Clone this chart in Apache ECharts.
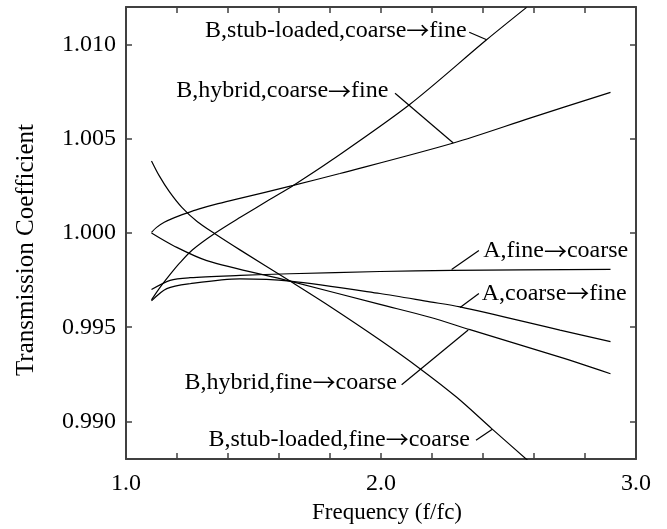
<!DOCTYPE html>
<html>
<head>
<meta charset="utf-8">
<script src="https://cdn.jsdelivr.net/npm/echarts@6/dist/echarts.min.js"></script>
<style>
  html, body { margin: 0; padding: 0; background: #ffffff; }
  #chart { width: 667px; height: 529px; }
</style>
</head>
<body>
<div id="chart"></div>
<script>
// Axis ticks and labels
const xLabelValues = [1.0, 2.0, 3.0];
const yTickValues = [0.990, 0.995, 1.000, 1.005, 1.010];

// Transmission coefficient versus normalised frequency f/fc
const stubCoarseToFine = [
  [1.100, 0.99645], [1.130, 0.99705], [1.170, 0.99775], [1.210, 0.99840],
  [1.260, 0.99910], [1.349, 0.99999], [1.450, 1.00085], [1.565, 1.00179],
  [1.656, 1.00253], [1.800, 1.00381], [2.110, 1.00680], [2.414, 1.01026],
  [2.571, 1.01198]
];
const hybridCoarseToFine = [
  [1.100, 1.00004], [1.120, 1.00030], [1.150, 1.00057], [1.190, 1.00082],
  [1.238, 1.00106], [1.284, 1.00127], [1.350, 1.00152], [1.434, 1.00180],
  [1.656, 1.00253], [1.839, 1.00316], [2.284, 1.00478], [2.584, 1.00610],
  [2.900, 1.00747]
];
const stubFineToCoarse = [
  [1.100, 1.00383], [1.130, 1.00305], [1.170, 1.00220], [1.220, 1.00135],
  [1.280, 1.00060], [1.350, 0.99995], [1.450, 0.99908], [1.643, 0.99745],
  [1.800, 0.99610], [1.996, 0.99432], [2.153, 0.99280], [2.297, 0.99128],
  [2.434, 0.98962], [2.578, 0.98790]
];
const hybridFineToCoarse = [
  [1.100, 1.00000], [1.186, 0.99933], [1.317, 0.99854], [1.643, 0.99745],
  [1.996, 0.99621], [2.192, 0.99553], [2.349, 0.99487], [2.702, 0.99341],
  [2.900, 0.99253]
];
const aCoarseToFine = [
  [1.100, 0.99640], [1.160, 0.99705], [1.251, 0.99731], [1.447, 0.99757],
  [1.643, 0.99745], [1.996, 0.99679], [2.192, 0.99635], [2.310, 0.99608],
  [2.702, 0.99485], [2.900, 0.99424]
];
const aFineToCoarse = [
  [1.100, 0.99700], [1.173, 0.99749], [1.251, 0.99763], [1.447, 0.99775],
  [1.643, 0.99784], [1.996, 0.99796], [2.277, 0.99802], [2.900, 0.99807]
];

// Curve labels: text, anchor point (data units), alignment, leader line ends
const curveLabels = [
  { text: 'B,stub-loaded,coarse\u2192fine', at: [2.336, 1.01074], align: 'right',
    leader: [[2.346, 1.01066], [2.4145, 1.01026]] },
  { text: 'B,hybrid,coarse\u2192fine', at: [2.029, 1.00754], align: 'right',
    leader: [[2.055, 1.00742], [2.2835, 1.00478]] },
  { text: 'A,fine\u2192coarse', at: [2.401, 0.99905], align: 'left',
    leader: [[2.384, 0.99907], [2.277, 0.99807]] },
  { text: 'A,coarse\u2192fine', at: [2.395, 0.99679], align: 'left',
    leader: [[2.384, 0.99679], [2.310, 0.99605]] },
  { text: 'B,hybrid,fine\u2192coarse', at: [2.062, 0.99206], align: 'right',
    leader: [[2.081, 0.99195], [2.342, 0.99485]] },
  { text: 'B,stub-loaded,fine\u2192coarse', at: [2.349, 0.98904], align: 'right',
    leader: [[2.3725, 0.98900], [2.4365, 0.98958]] }
];

const SERIF = 'Liberation Serif';
const ARROW_FONT = 'Noto Sans CJK SC';
const AXIS_COLOR = '#404040';

const chart = echarts.init(document.getElementById('chart'), null, { renderer: 'canvas' });

function curve(name, data) {
  return {
    name: name,
    type: 'line',
    data: data,
    xAxisIndex: 0,
    yAxisIndex: 0,
    smooth: 0.3,
    showSymbol: false,
    symbol: 'none',
    clip: true,
    silent: true,
    lineStyle: { color: '#000000', width: 1.2 }
  };
}

const axisLineStyle = { show: true, onZero: false, lineStyle: { color: AXIS_COLOR, width: 2 } };
const tickStyle = { inside: true, length: 6, lineStyle: { color: AXIS_COLOR, width: 1.5 } };

chart.setOption({
  animation: false,
  backgroundColor: '#ffffff',
  grid: { left: 126, right: 31, top: 7, bottom: 67, containLabel: false },
  xAxis: [
    {
      type: 'value', position: 'bottom', min: 1, max: 3, interval: 0.2,
      name: 'Frequency (f/fc)', nameLocation: 'middle', nameGap: 37,
      nameTextStyle: { fontFamily: SERIF, fontSize: 23, color: '#000', padding: [0, 0, 0, 12] },
      axisLine: axisLineStyle,
      axisTick: tickStyle,
      axisLabel: {
        customValues: xLabelValues,
        formatter: v => v.toFixed(1),
        fontFamily: SERIF, fontSize: 24, color: '#000', margin: 13
      },
      splitLine: { show: false }
    },
    {
      type: 'value', position: 'top', min: 1, max: 3, interval: 0.2,
      axisLine: axisLineStyle,
      axisTick: tickStyle,
      axisLabel: { show: false },
      splitLine: { show: false }
    }
  ],
  yAxis: [
    {
      type: 'value', position: 'left', min: 0.988, max: 1.012,
      axisLine: axisLineStyle,
      axisTick: Object.assign({ customValues: yTickValues }, tickStyle),
      axisLabel: {
        customValues: yTickValues,
        formatter: v => v.toFixed(3),
        fontFamily: SERIF, fontSize: 24, color: '#000', margin: 10
      },
      splitLine: { show: false }
    },
    {
      type: 'value', position: 'right', min: 0.988, max: 1.012,
      axisLine: axisLineStyle,
      axisTick: Object.assign({ customValues: yTickValues }, tickStyle),
      axisLabel: { show: false },
      splitLine: { show: false }
    }
  ],
  series: [
    curve('B,stub-loaded,coarse\u2192fine', stubCoarseToFine),
    curve('B,hybrid,coarse\u2192fine', hybridCoarseToFine),
    curve('B,stub-loaded,fine\u2192coarse', stubFineToCoarse),
    curve('B,hybrid,fine\u2192coarse', hybridFineToCoarse),
    curve('A,coarse\u2192fine', aCoarseToFine),
    curve('A,fine\u2192coarse', aFineToCoarse),
    {
      name: 'leaders',
      type: 'lines',
      coordinateSystem: 'cartesian2d',
      xAxisIndex: 0,
      yAxisIndex: 0,
      silent: true,
      lineStyle: { color: '#000000', width: 1.2, opacity: 1 },
      data: curveLabels.map(l => ({ coords: l.leader }))
    }
  ]
});

// Rich text: the arrow comes from a font with a full-width arrow glyph
function richText(s) {
  return s.split('\u2192').join('{arrow|\u2192}');
}

// Curve labels and the y axis title, placed from data coordinates
const graphics = curveLabels.map(l => {
  const p = chart.convertToPixel({ xAxisIndex: 0, yAxisIndex: 0 }, l.at);
  return {
    type: 'text', x: p[0], y: p[1], silent: true,
    style: {
      text: richText(l.text), fill: '#000',
      fontFamily: SERIF, fontSize: 24,
      align: l.align, verticalAlign: 'middle',
      rich: { arrow: { fontFamily: ARROW_FONT, fontSize: 23, fill: '#000' } }
    }
  };
});
graphics.push({
  type: 'text', x: 26, y: 250, rotation: Math.PI / 2, silent: true,
  style: {
    text: 'Transmission Coefficient', fill: '#000',
    fontFamily: SERIF, fontSize: 25,
    align: 'center', verticalAlign: 'middle'
  }
});
chart.setOption({ graphic: graphics });
</script>
</body>
</html>
